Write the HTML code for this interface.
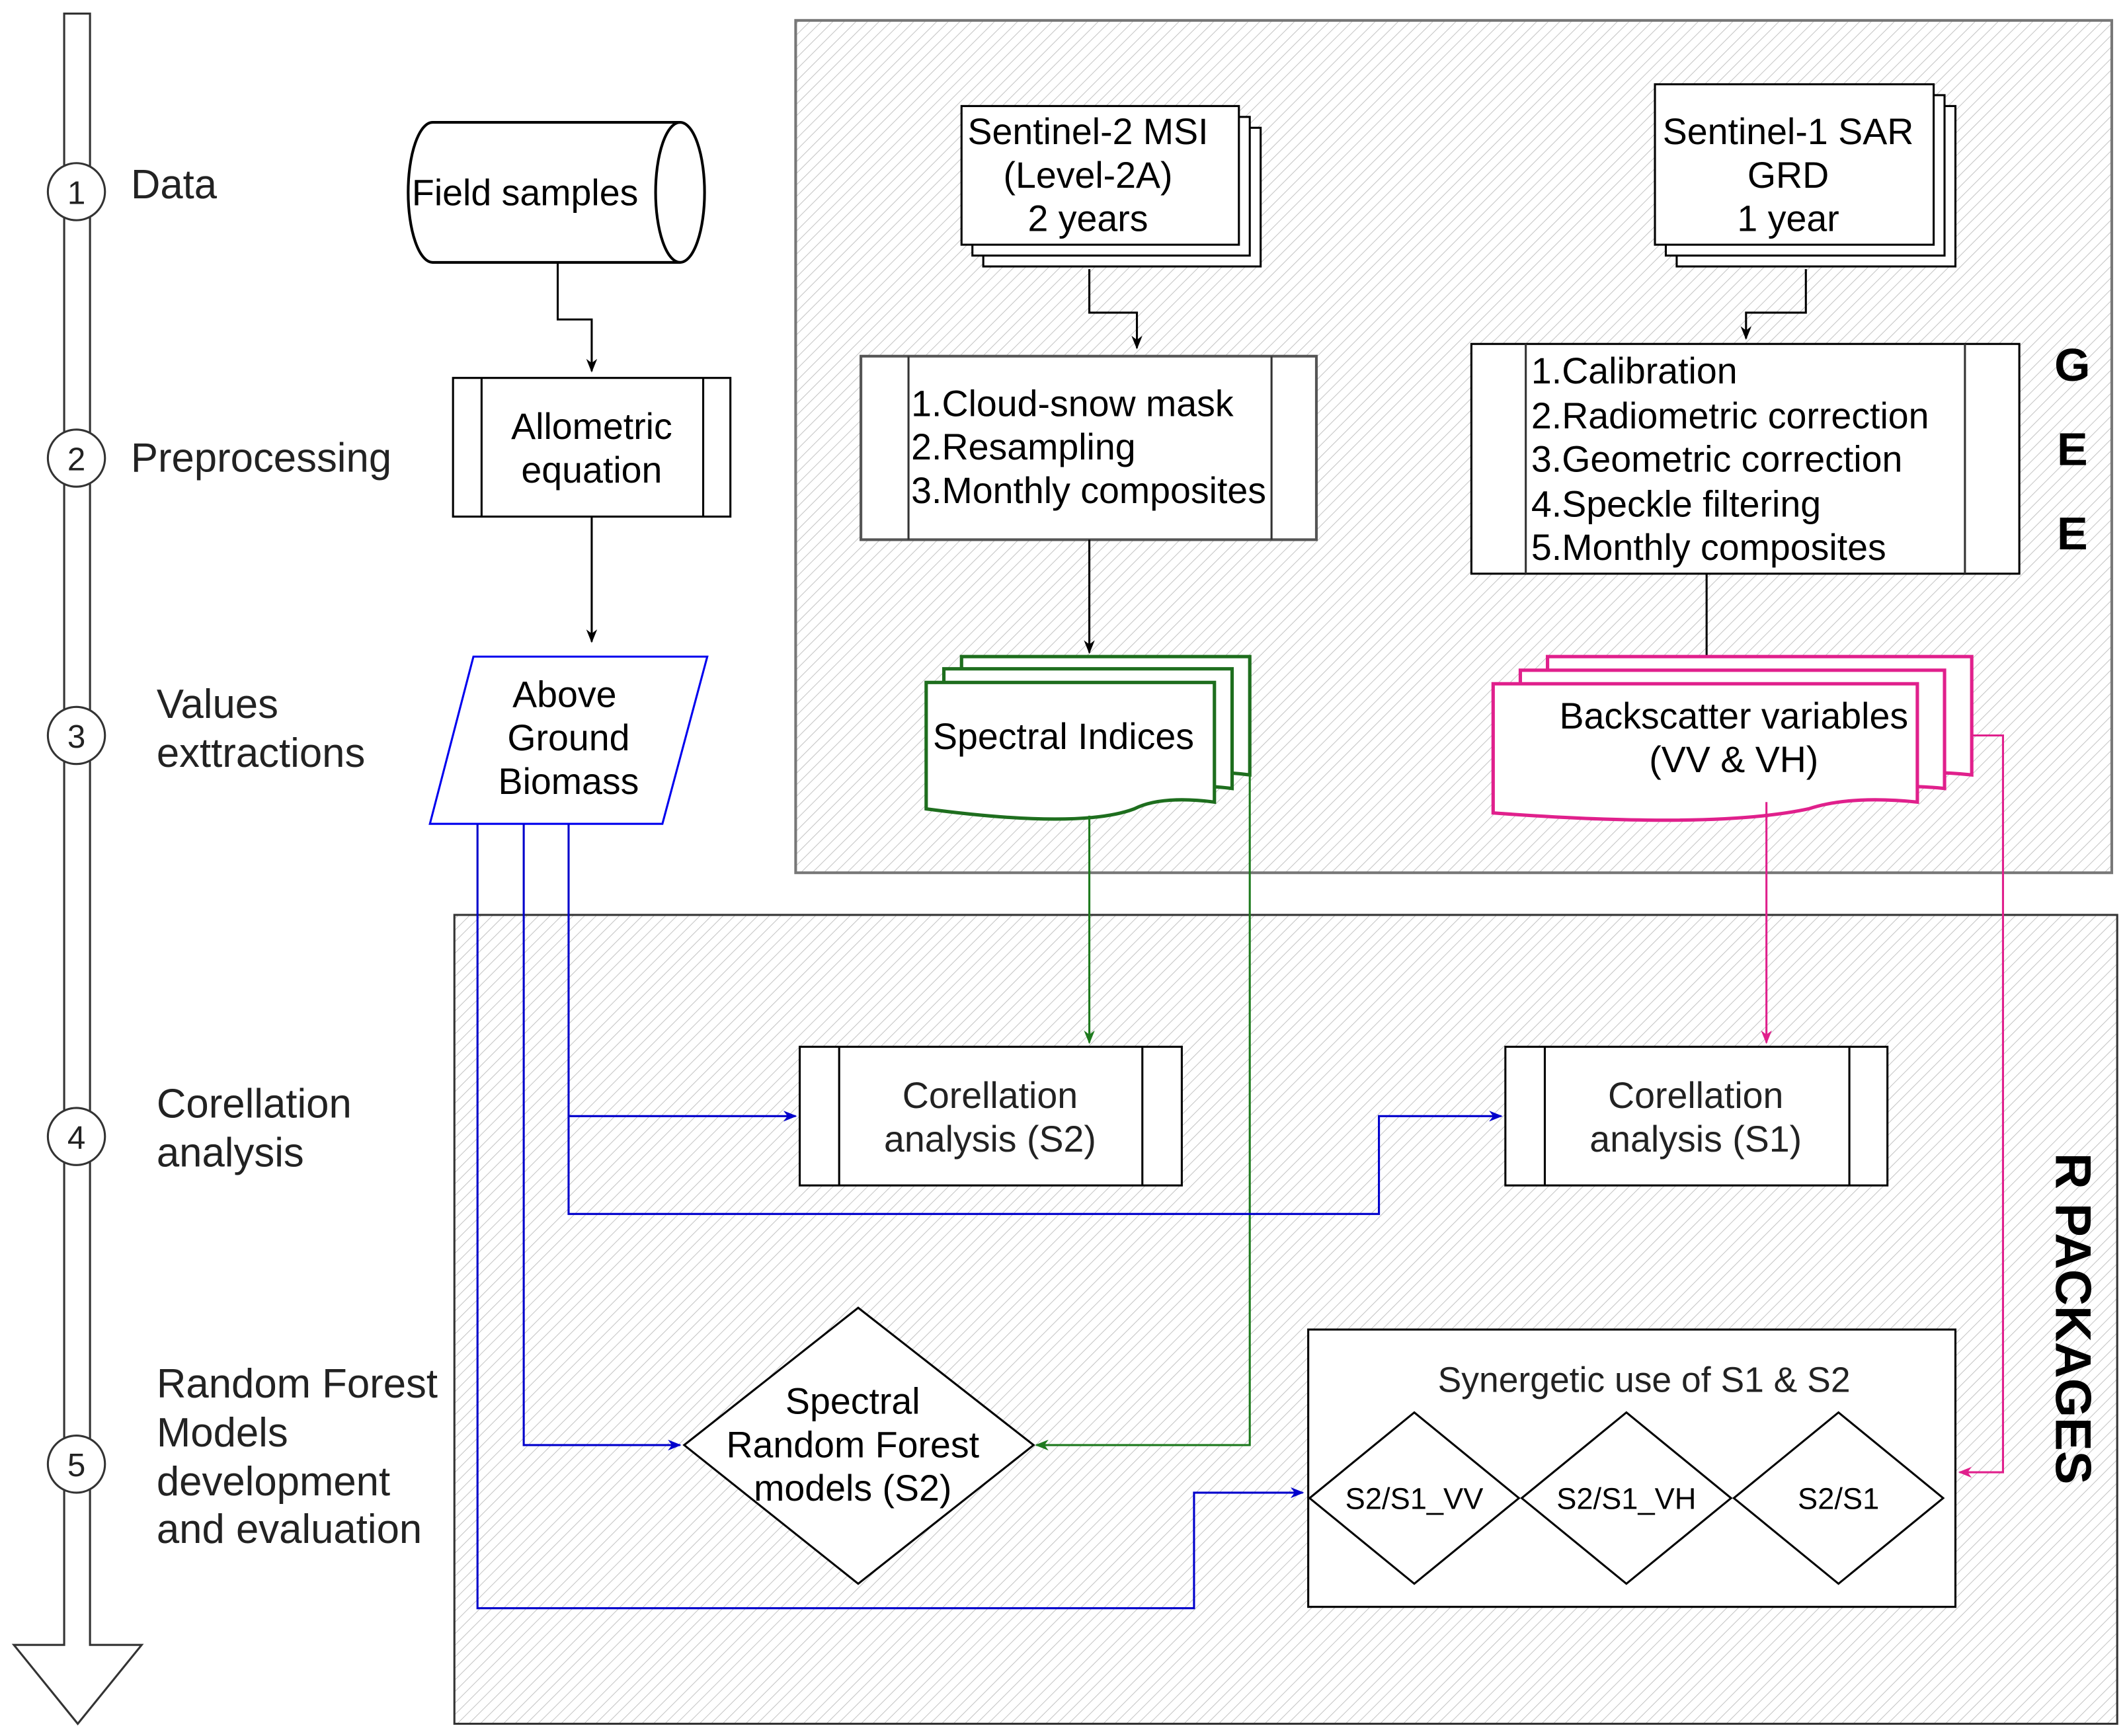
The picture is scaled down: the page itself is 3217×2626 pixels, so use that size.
<!DOCTYPE html>
<html><head><meta charset="utf-8"><style>html,body{margin:0;padding:0;background:#fff}svg{display:block}</style></head>
<body>
<svg xmlns="http://www.w3.org/2000/svg" width="3217" height="2626" viewBox="0 0 1564 1277" font-family="Liberation Sans, Arial, sans-serif">
<defs>
<pattern id="h" patternUnits="userSpaceOnUse" width="6" height="6" patternTransform="rotate(45)">
<rect width="6" height="6" fill="#fff"/><line x1="0" y1="0" x2="0" y2="6" stroke="#c4c4c4" stroke-width="1"/>
</pattern>
<marker id="ak" markerWidth="10" markerHeight="10" refX="9" refY="5" orient="auto" markerUnits="userSpaceOnUse"><path d="M0,1 L10,5 L0,9 L3,5 Z" fill="#000"/></marker>
<marker id="ab" markerWidth="10" markerHeight="10" refX="9" refY="5" orient="auto" markerUnits="userSpaceOnUse"><path d="M0,1 L10,5 L0,9 L3,5 Z" fill="#0000cc"/></marker>
<marker id="ag" markerWidth="10" markerHeight="10" refX="9" refY="5" orient="auto" markerUnits="userSpaceOnUse"><path d="M0,1 L10,5 L0,9 L3,5 Z" fill="#1e7a1e"/></marker>
<marker id="ap" markerWidth="10" markerHeight="10" refX="9" refY="5" orient="auto" markerUnits="userSpaceOnUse"><path d="M0,1 L10,5 L0,9 L3,5 Z" fill="#e0208c"/></marker>
</defs>
<rect width="1564" height="1277" fill="#fff"/>
<rect x="585" y="15" width="968" height="627" fill="url(#h)" stroke="#777" stroke-width="2"/>
<rect x="334" y="673" width="1223" height="595" fill="url(#h)" stroke="#333" stroke-width="1.5"/>
<g font-weight="bold" font-size="34" text-anchor="middle" fill="#000">
<text x="1524" y="280">G</text><text x="1524" y="342">E</text><text x="1524" y="404">E</text>
<text transform="translate(1512,970) rotate(90)" font-size="37">R PACKAGES</text>
</g>
<path d="M47,1210 L47,10 L66,10 L66,1210 L104,1210 L57,1268 L10,1210 Z" fill="#fff" stroke="#333" stroke-width="1.5"/>
<g fill="#fff" stroke="#333" stroke-width="1.5">
<circle cx="56" cy="141" r="21"/><circle cx="56" cy="337" r="21"/><circle cx="56" cy="541" r="21"/><circle cx="56" cy="836" r="21"/><circle cx="56" cy="1077" r="21"/></g>
<g font-size="24" text-anchor="middle" fill="#222"><text x="56" y="150">1</text><text x="56" y="346">2</text><text x="56" y="550">3</text><text x="56" y="845">4</text><text x="56" y="1086">5</text></g>
<g font-size="30" fill="#222">
<text x="96" y="146">Data</text><text x="96" y="347">Preprocessing</text>
<text x="115" y="528">Values</text><text x="115" y="564">exttractions</text>
<text x="115" y="822">Corellation</text><text x="115" y="858">analysis</text>
<text x="115" y="1028">Random Forest</text><text x="115" y="1064">Models</text><text x="115" y="1100">development</text><text x="115" y="1135">and evaluation</text>
</g>
<path d="M318,90 L500,90 A18,51.5 0 0 1 500,193 L318,193 A18,51.5 0 0 1 318,90 Z" fill="#fff" stroke="#000" stroke-width="2"/>
<path d="M500,90 A18,51.5 0 0 0 500,193" fill="none" stroke="#000" stroke-width="2"/>
<text x="386" y="151" font-size="27" text-anchor="middle">Field samples</text>
<path d="M410,193 V235 H435 V273" fill="none" stroke="#000" stroke-width="1.5" marker-end="url(#ak)"/>
<rect x="333" y="278" width="204" height="102" fill="#fff" stroke="#000" stroke-width="1.5"/>
<path d="M354,278V380M517,278V380" stroke="#000" stroke-width="1.5"/>
<text x="435" y="323" font-size="27" text-anchor="middle">Allometric</text><text x="435" y="355" font-size="27" text-anchor="middle">equation</text>
<path d="M435,380 V472" fill="none" stroke="#000" stroke-width="1.5" marker-end="url(#ak)"/>
<polygon points="348,483 520,483 487,606 316,606" fill="#fff" stroke="#0000ee" stroke-width="1.5"/>
<g font-size="27" text-anchor="middle"><text x="415" y="520">Above</text><text x="418" y="552">Ground</text><text x="418" y="584">Biomass</text></g>
<g fill="#fff" stroke="#000" stroke-width="1.5">
<rect x="723" y="94" width="204" height="102"/><rect x="715" y="86" width="204" height="102"/><rect x="707" y="78" width="204" height="102"/>
<rect x="1233" y="78" width="205" height="118"/><rect x="1225" y="70" width="205" height="118"/><rect x="1217" y="62" width="205" height="118"/>
</g>
<g font-size="27" text-anchor="middle">
<text x="800" y="106">Sentinel-2 MSI</text><text x="800" y="138">(Level-2A)</text><text x="800" y="170">2 years</text>
<text x="1315" y="106">Sentinel-1 SAR</text><text x="1315" y="138">GRD</text><text x="1315" y="170">1 year</text>
</g>
<path d="M801,198 V230 H836 V256" fill="none" stroke="#000" stroke-width="1.5" marker-end="url(#ak)"/>
<path d="M1328,198 V230 H1284 V249" fill="none" stroke="#000" stroke-width="1.5" marker-end="url(#ak)"/>
<rect x="633" y="262" width="335" height="135" fill="#fff" stroke="#555" stroke-width="2"/>
<path d="M668,262V397M935,262V397" stroke="#333" stroke-width="1.5"/>
<g font-size="27"><text x="670" y="306">1.Cloud-snow mask</text><text x="670" y="338">2.Resampling</text><text x="670" y="370">3.Monthly composites</text></g>
<rect x="1082" y="253" width="403" height="169" fill="#fff" stroke="#000" stroke-width="1.5"/>
<path d="M1122,253V422M1445,253V422" stroke="#333" stroke-width="1.5"/>
<g font-size="27"><text x="1126" y="282">1.Calibration</text><text x="1126" y="315">2.Radiometric correction</text><text x="1126" y="347">3.Geometric correction</text><text x="1126" y="380">4.Speckle filtering</text><text x="1126" y="412">5.Monthly composites</text></g>
<path d="M801,397 V480" fill="none" stroke="#000" stroke-width="1.5" marker-end="url(#ak)"/>
<path d="M1255,422 V482" fill="none" stroke="#000" stroke-width="1.5"/>
<g fill="#fff" stroke="#1e6e1e" stroke-width="2.5">
<path d="M707,483 H919 V570 Q880,565 860,575 Q820,590 707,575 Z"/>
<path d="M694,492 H906 V580 Q867,575 847,585 Q807,600 694,585 Z"/>
<path d="M681,502 H893 V590 Q854,585 834,595 Q794,610 681,595 Z"/>
</g>
<text x="782" y="551" font-size="27" text-anchor="middle">Spectral Indices</text>
<g fill="#fff" stroke="#e0208c" stroke-width="2.5">
<path d="M1138,483 H1450 V570 Q1400,565 1370,575 Q1300,590 1138,578 Z"/>
<path d="M1118,493 H1430 V580 Q1380,575 1350,585 Q1280,600 1118,588 Z"/>
<path d="M1098,503 H1410 V590 Q1360,585 1330,595 Q1260,610 1098,598 Z"/>
</g>
<text x="1275" y="536" font-size="27" text-anchor="middle">Backscatter variables</text><text x="1275" y="568" font-size="27" text-anchor="middle">(VV &amp; VH)</text>
<g fill="#fff" stroke="#000" stroke-width="1.5">
<rect x="588" y="770" width="281" height="102"/><rect x="1107" y="770" width="281" height="102"/></g>
<path d="M617,770V872M840,770V872M1136,770V872M1360,770V872" stroke="#000" stroke-width="1.5"/>
<g font-size="27" text-anchor="middle" fill="#222"><text x="728" y="815">Corellation</text><text x="728" y="847">analysis (S2)</text><text x="1247" y="815">Corellation</text><text x="1247" y="847">analysis (S1)</text></g>
<path d="M801,600 V767" fill="none" stroke="#1e7a1e" stroke-width="1.5" marker-end="url(#ag)"/>
<path d="M919,570 V1063 H762" fill="none" stroke="#1e7a1e" stroke-width="1.5" marker-end="url(#ag)"/>
<path d="M1299,590 V767" fill="none" stroke="#e0208c" stroke-width="1.5" marker-end="url(#ap)"/>
<path d="M1450,541 H1473 V1083 H1441" fill="none" stroke="#e0208c" stroke-width="1.5" marker-end="url(#ap)"/>
<g fill="none" stroke="#0000cc" stroke-width="1.5">
<path d="M418,606 V893 H1014 V821 H1104" marker-end="url(#ab)"/>
<path d="M418,821 H585" marker-end="url(#ab)"/>
<path d="M385,606 V1063 H500" marker-end="url(#ab)"/>
<path d="M351,606 V1183 H878 V1098 H958" marker-end="url(#ab)"/>
</g>
<polygon points="631,962 760,1063 631,1165 503,1063" fill="#fff" stroke="#000" stroke-width="1.5"/>
<g font-size="27" text-anchor="middle"><text x="627" y="1040">Spectral</text><text x="627" y="1072">Random Forest</text><text x="627" y="1104">models (S2)</text></g>
<rect x="962" y="978" width="476" height="204" fill="#fff" stroke="#000" stroke-width="1.5"/>
<text x="1209" y="1024" font-size="26" text-anchor="middle" fill="#222">Synergetic use of S1 &amp; S2</text>
<g fill="#fff" stroke="#000" stroke-width="1.5">
<polygon points="1040,1039 1117,1102 1040,1165 963,1102"/><polygon points="1196,1039 1273,1102 1196,1165 1119,1102"/><polygon points="1352,1039 1429,1102 1352,1165 1275,1102"/></g>
<g font-size="22" text-anchor="middle"><text x="1040" y="1110">S2/S1_VV</text><text x="1196" y="1110">S2/S1_VH</text><text x="1352" y="1110">S2/S1</text></g>
</svg>
</body></html>
